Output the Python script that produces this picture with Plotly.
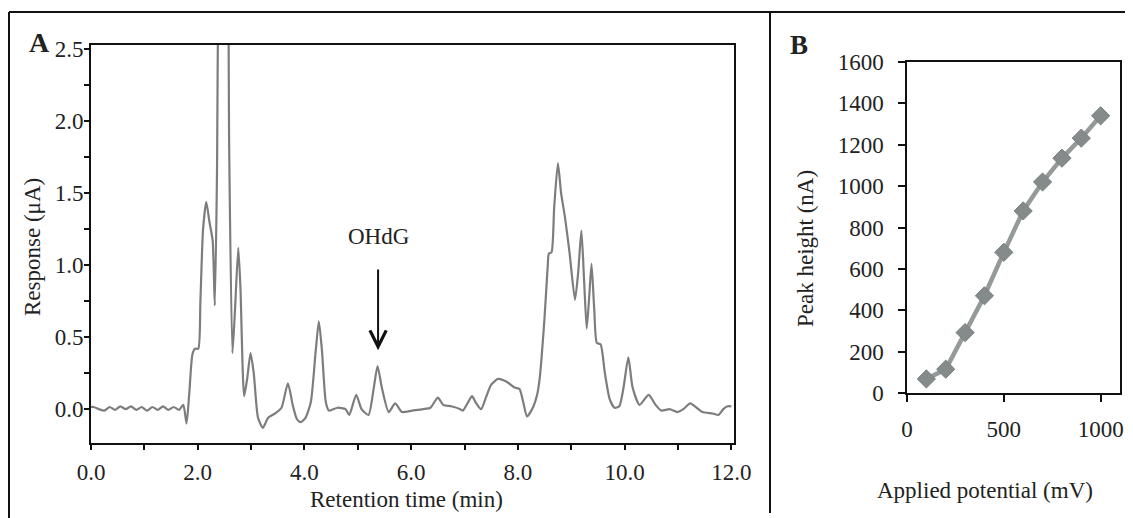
import plotly.graph_objects as go

# ---- Panel A: chromatogram (retention time in min, response in uA) ----
ret_time = [0.0, 0.05, 0.15, 0.25, 0.35, 0.45, 0.55, 0.65, 0.75, 0.85, 0.95, 1.05, 1.15, 1.25, 1.35,
            1.45, 1.55, 1.65, 1.73, 1.79, 1.84, 1.90, 1.95, 2.01, 2.05, 2.10, 2.16, 2.22, 2.28,
            2.32, 2.36, 2.40, 2.48, 2.56, 2.59, 2.65, 2.70, 2.76, 2.80, 2.87, 2.93, 2.99, 3.05,
            3.13, 3.22, 3.32, 3.45, 3.57, 3.69, 3.78, 3.86, 3.93, 4.02, 4.12, 4.21, 4.27, 4.33,
            4.40, 4.46, 4.62, 4.77, 4.84, 4.97, 5.07, 5.20, 5.30, 5.37, 5.45, 5.58, 5.70, 5.83,
            6.02, 6.22, 6.36, 6.50, 6.60, 6.75, 6.92, 6.97, 7.07, 7.14, 7.22, 7.31, 7.40, 7.50,
            7.63, 7.79, 7.94, 8.03, 8.10, 8.17, 8.28, 8.36, 8.41, 8.50, 8.56, 8.58, 8.63, 8.68,
            8.75, 8.81, 8.88, 8.97, 9.07, 9.13, 9.19, 9.24, 9.29, 9.34, 9.38, 9.43, 9.48, 9.55,
            9.63, 9.72, 9.81, 9.90, 9.98, 10.07, 10.15, 10.28, 10.45, 10.58, 10.69, 10.84, 10.99,
            11.10, 11.23, 11.35, 11.46, 11.65, 11.76, 11.85, 11.93, 12.0]
response = [0.015, 0.015, 0.0, -0.01, 0.015, -0.005, 0.02, 0.0, 0.02, -0.005, 0.015, -0.01, 0.015, -0.005, 0.02,
            -0.005, 0.015, -0.005, 0.03, -0.10, 0.10, 0.38, 0.42, 0.42, 0.75, 1.25, 1.44, 1.30, 1.17,
            0.72, 1.6, 3.2, 3.6, 3.2, 1.8, 0.39, 0.70, 1.12, 0.85, 0.09, 0.22, 0.39, 0.25,
            -0.06, -0.13, -0.06, -0.03, 0.01, 0.18, 0.03, -0.07, -0.09, -0.06, 0.05, 0.40, 0.61, 0.40,
            0.05, -0.01, 0.01, 0.0, -0.04, 0.10, 0.0, -0.04, 0.15, 0.30, 0.15, -0.02, 0.04, -0.02,
            -0.01, 0.0, 0.01, 0.08, 0.03, 0.02, 0.0, -0.01, 0.05, 0.09, 0.04, 0.0, 0.08, 0.17,
            0.21, 0.19, 0.15, 0.14, 0.05, -0.05, 0.01, 0.10, 0.22, 0.64, 1.00, 1.08, 1.09, 1.40,
            1.71, 1.50, 1.34, 1.08, 0.76, 0.95, 1.24, 0.90, 0.56, 0.80, 1.01, 0.70, 0.46, 0.45,
            0.25, 0.07, 0.01, 0.02, 0.15, 0.36, 0.15, 0.03, 0.10, 0.03, -0.01, 0.0, -0.02,
            0.0, 0.04, 0.01, -0.02, -0.03, -0.04, 0.0, 0.02, 0.02]

# ---- Panel B: peak height vs applied potential ----
potential_mv = [100, 200, 300, 400, 500, 600, 700, 800, 900, 1000]
peak_height_na = [68, 115, 292, 470, 680, 880, 1020, 1135, 1232, 1340]

FONT = "Liberation Serif"
TXT = "#222222"
OFF = 8                      # page body margin of the browser
W, H = 1133 - OFF, 518 - OFF
FS = 23

fig = go.Figure()
fig.add_trace(go.Scatter(x=ret_time, y=response, mode="lines",
                         line=dict(color="#7d7d7d", width=2.2, shape="spline", smoothing=0.6),
                         xaxis="x", yaxis="y", showlegend=False, hoverinfo="skip"))
fig.add_trace(go.Scatter(x=potential_mv, y=peak_height_na, mode="lines+markers",
                         line=dict(color="#969999", width=4.5),
                         marker=dict(symbol="diamond", size=14, color="#858b8b",
                                     line=dict(color="#7a8080", width=1)),
                         xaxis="x2", yaxis="y2", showlegend=False))

def px(x):
    return (x - OFF) / W

def py(y):
    return 1 - (y - OFF) / H

axis_common = dict(showgrid=False, zeroline=False, showline=True, linecolor="#111111",
                   linewidth=2, mirror=True, ticks="outside", tickcolor="#111111",
                   tickwidth=2, automargin=False,
                   tickfont=dict(family=FONT, size=FS, color=TXT))

fig.update_layout(
    width=W, height=H, margin=dict(l=0, r=0, t=0, b=0, autoexpand=False),
    paper_bgcolor="white", plot_bgcolor="white", showlegend=False,
    font=dict(family=FONT, color=TXT),
    xaxis=dict(domain=[px(91), px(734)], range=[0, 12.05], tickvals=[0, 2, 4, 6, 8, 10, 12],
               tickformat=".1f", ticklen=5, ticklabelstandoff=2,
               minor=dict(tickvals=[1, 3, 5, 7, 9, 11], ticks="outside", ticklen=5,
                          tickwidth=2, tickcolor="#111111"),
               anchor="y", **axis_common),
    yaxis=dict(domain=[py(443), py(45)], range=[-0.235, 2.53], tickvals=[0, 0.5, 1.0, 1.5, 2.0, 2.5],
               tickformat=".1f", ticklen=5, ticklabelstandoff=-4,
               minor=dict(tickvals=[0.25, 0.75, 1.25, 1.75, 2.25], ticks="outside", ticklen=5,
                          tickwidth=2, tickcolor="#111111"),
               anchor="x", **axis_common),
    xaxis2=dict(domain=[px(907), px(1120)], range=[0, 1100], tickvals=[0, 500, 1000],
                ticklen=7, ticklabelstandoff=8, anchor="y2",
                **{**axis_common, "linewidth": 1.5}),
    yaxis2=dict(domain=[py(393), py(62)], range=[0, 1600], dtick=200, ticklen=7,
                ticklabelstandoff=10, anchor="x2",
                **{**axis_common, "linewidth": 1.5}),
)

ann = []
def text(x, y, s, size=FS, angle=0, bold=False):
    ann.append(dict(x=px(x), y=py(y), xref="paper", yref="paper", text=f"<b>{s}</b>" if bold else s,
                    showarrow=False, textangle=angle, xanchor="center", yanchor="middle",
                    font=dict(family=FONT, size=size, color=TXT)))

text(39, 43, "A", size=28, bold=True)
text(799, 45, "B", size=27, bold=True)
text(32, 247, "Response (μA)", angle=-90)
text(406, 499, "Retention time (min)")
text(805, 249, "Peak height (nA)", angle=-90)
text(985, 490, "Applied potential (mV)")
text(378, 237, "OHdG")
for a in ann:
    fig.add_annotation(**a)

# OHdG arrow
fig.add_annotation(x=5.38, y=0.41, ax=5.38, ay=0.98, xref="x", yref="y", axref="x", ayref="y",
                   showarrow=True, arrowhead=5, arrowsize=1.6, arrowwidth=2, arrowcolor="#111111",
                   text="")

# panel frame lines
for (x0, y0, x1, y1) in [(9, 12, 1133, 12), (9, 12, 9, 518), (770, 12, 770, 513)]:
    fig.add_shape(type="line", xref="paper", yref="paper", x0=px(x0), y0=py(y0), x1=px(x1), y1=py(y1),
                  line=dict(color="#111111", width=2))

fig.write_html("out.html")
